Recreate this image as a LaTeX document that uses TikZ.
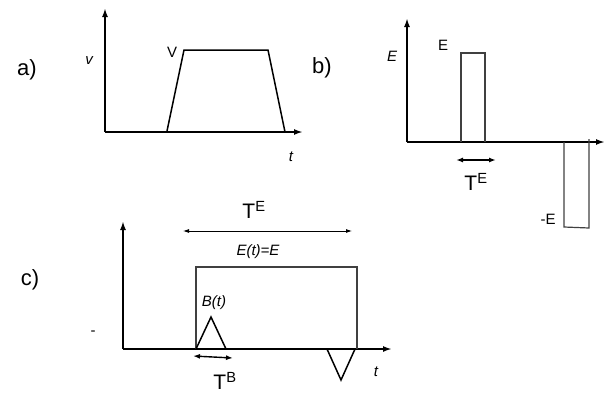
\documentclass[tikz,border=0pt]{standalone}
\usepackage{fontspec}
\setmainfont{Liberation Sans}
\usetikzlibrary{arrows.meta}
\begin{document}
\begin{tikzpicture}[x=1pt,y=-1pt,
 axis/.style={line width=1.8pt,-{Latex[length=9pt,width=6pt]}},
 curve/.style={line width=1.5pt},
 pulse/.style={line width=1.2pt, black!75},
 dimarrow/.style={line width=1.4pt,{Latex[length=7pt,width=5pt]}-{Latex[length=7pt,width=5pt]}},
 thindim/.style={line width=0.8pt,{Latex[length=6pt,width=4pt]}-{Latex[length=6pt,width=4pt]}},
 lbl/.style={font=\fontsize{22}{22}\selectfont, inner sep=0pt},
 sm/.style={font=\fontsize{15}{15}\selectfont\itshape, inner sep=0pt},
 smu/.style={font=\fontsize{15}{15}\selectfont, inner sep=0pt},
 big/.style={font=\fontsize{21}{21}\selectfont, inner sep=0pt}]
\useasboundingbox (0,0) rectangle (607,394);
% ---------- panel a
\coordinate (ao) at (105,132);
\coordinate (ay) at (105,8);
\coordinate (ax) at (303,132);
\draw[axis] (ao) -- (ay);
\draw[axis] (ao) -- (ax);
\coordinate (a1) at (167,131);
\coordinate (a2) at (184,50);
\coordinate (a3) at (268,50);
\coordinate (a4) at (285,132);
\draw[curve] (a1) -- (a2) -- (a3) -- (a4);
\node[lbl] (la) at (27,70) {a)};
\node[sm] (lv) at (89,61) {v};
\node[smu] (lV) at (172,52) {V};
\node[sm] (lta) at (291,157) {t};
% ---------- panel b
\coordinate (bo) at (407,142);
\coordinate (by) at (407,18);
\coordinate (bx) at (605,142);
\draw[axis] (bo) -- (by);
\draw[axis] (bo) -- (bx);
\coordinate (b1) at (461,142);
\coordinate (b2) at (461,53);
\coordinate (b3) at (485,53);
\coordinate (b4) at (485,142);
\draw[pulse] (b1) -- (b2) -- (b3) -- (b4);
\coordinate (b5) at (564,142);
\coordinate (b6) at (564,227);
\coordinate (b7) at (589,228);
\coordinate (b8) at (589,139);
\draw[pulse] (b5) -- (b6) -- (b7) -- (b8);
\coordinate (bd1) at (456,160);
\coordinate (bd2) at (496,160);
\draw[dimarrow] (bd1) -- (bd2);
\node[lbl] (lb) at (322,68) {b)};
\node[sm] (lEb) at (392,56) {E};
\node[smu] (lEu) at (443,45) {E};
\node[smu] (lmE) at (548,219) {-E};
\node[big] (lTEb) at (476,182) {T\textsuperscript{E}};
% ---------- panel c
\coordinate (co) at (123,349);
\coordinate (cy) at (123,221);
\coordinate (cx) at (392,349);
\draw[axis] (co) -- (cy);
\draw[axis] (co) -- (cx);
\coordinate (c1) at (196,349);
\coordinate (c2) at (196,267);
\coordinate (c3) at (357,267);
\coordinate (c4) at (357,349);
\draw[pulse] (c1) -- (c2) -- (c3) -- (c4);
\coordinate (t1) at (211,317);
\coordinate (t2) at (226,349);
\draw[curve] (c1) -- (t1) -- (t2);
\coordinate (u1) at (327,349);
\coordinate (u2) at (341,380);
\coordinate (u3) at (355,349);
\draw[curve] (u1) -- (u2) -- (u3);
\coordinate (cd1) at (193,356);
\coordinate (cd2) at (233,358);
\draw[dimarrow] (cd1) -- (cd2);
\coordinate (ce1) at (183,231);
\coordinate (ce2) at (352,231);
\draw[thindim] (ce1) -- (ce2);
\node[lbl] (lc) at (30,280) {c)};
\node[smu] (ldash) at (93,333) {-};
\node[sm] (ltc) at (376,372) {t};
\node[sm] (lB) at (214,303) {B(t)};
\node[sm] (lEt) at (258,252) {E(t)=E};
\node[big] (lTEc) at (254,210) {T\textsuperscript{E}};
\node[big] (lTB) at (225,381) {T\textsuperscript{B}};
\end{tikzpicture}
\end{document}
